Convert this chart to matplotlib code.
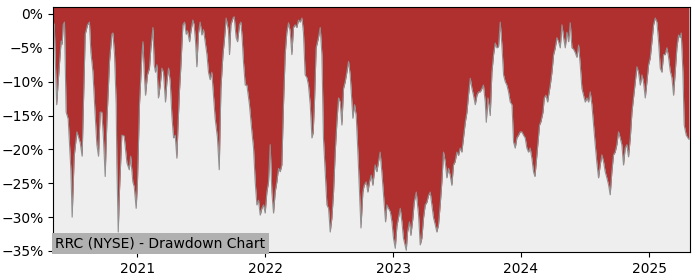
import numpy as np
import pandas as pd
import matplotlib
matplotlib.use("Agg")
import matplotlib.pyplot as plt
import matplotlib.dates as mdates
from matplotlib.ticker import PercentFormatter

# time as decimal years, drawdown in percent
years = [
    2020.344, 2020.352, 2020.371, 2020.383, 2020.398, 2020.406, 2020.414, 2020.422, 2020.432, 2020.445,
    2020.461, 2020.482, 2020.492, 2020.508, 2020.529, 2020.555, 2020.570, 2020.580, 2020.594, 2020.612,
    2020.627, 2020.638, 2020.654, 2020.672, 2020.685, 2020.698, 2020.711, 2020.724, 2020.737, 2020.750,
    2020.763, 2020.784, 2020.802, 2020.810, 2020.823, 2020.836, 2020.841, 2020.852, 2020.862, 2020.880,
    2020.898, 2020.920, 2020.938, 2020.949, 2020.966, 2020.977, 2020.992, 2021.002, 2021.018, 2021.037,
    2021.045, 2021.055, 2021.065, 2021.080, 2021.096, 2021.107, 2021.123, 2021.133, 2021.143, 2021.154,
    2021.166, 2021.180, 2021.193, 2021.205, 2021.221, 2021.232, 2021.245, 2021.258, 2021.271, 2021.284,
    2021.297, 2021.310, 2021.318, 2021.330, 2021.341, 2021.357, 2021.370, 2021.383, 2021.393, 2021.409,
    2021.420, 2021.435, 2021.445, 2021.456, 2021.466, 2021.479, 2021.492, 2021.505, 2021.518, 2021.531,
    2021.545, 2021.557, 2021.570, 2021.583, 2021.596, 2021.609, 2021.627, 2021.641, 2021.654, 2021.670,
    2021.680, 2021.695, 2021.713, 2021.721, 2021.732, 2021.748, 2021.758, 2021.773, 2021.784, 2021.799,
    2021.810, 2021.820, 2021.830, 2021.844, 2021.857, 2021.877, 2021.896, 2021.909, 2021.922, 2021.935,
    2021.948, 2021.961, 2021.974, 2021.987, 2022.000, 2022.013, 2022.026, 2022.039, 2022.052, 2022.065,
    2022.078, 2022.091, 2022.104, 2022.117, 2022.130, 2022.143, 2022.156, 2022.169, 2022.182, 2022.195,
    2022.208, 2022.221, 2022.234, 2022.247, 2022.260, 2022.273, 2022.287, 2022.299, 2022.312, 2022.326,
    2022.338, 2022.352, 2022.365, 2022.375, 2022.385, 2022.398, 2022.416, 2022.430, 2022.443, 2022.455,
    2022.469, 2022.482, 2022.495, 2022.508, 2022.521, 2022.534, 2022.547, 2022.560, 2022.573, 2022.586,
    2022.599, 2022.612, 2022.625, 2022.638, 2022.651, 2022.664, 2022.677, 2022.685, 2022.698, 2022.711,
    2022.724, 2022.737, 2022.748, 2022.763, 2022.773, 2022.789, 2022.802, 2022.815, 2022.828, 2022.841,
    2022.859, 2022.872, 2022.885, 2022.898, 2022.911, 2022.930, 2022.940, 2022.951, 2022.963, 2022.977,
    2022.990, 2023.002, 2023.016, 2023.029, 2023.041, 2023.055, 2023.068, 2023.080, 2023.102, 2023.112,
    2023.127, 2023.138, 2023.154, 2023.164, 2023.180, 2023.198, 2023.211, 2023.224, 2023.237, 2023.250,
    2023.263, 2023.276, 2023.289, 2023.302, 2023.315, 2023.328, 2023.341, 2023.354, 2023.367, 2023.380,
    2023.393, 2023.406, 2023.419, 2023.432, 2023.445, 2023.458, 2023.471, 2023.484, 2023.497, 2023.510,
    2023.523, 2023.536, 2023.549, 2023.563, 2023.576, 2023.588, 2023.602, 2023.615, 2023.627, 2023.641,
    2023.654, 2023.666, 2023.680, 2023.693, 2023.705, 2023.719, 2023.727, 2023.732, 2023.740, 2023.758,
    2023.771, 2023.784, 2023.797, 2023.810, 2023.823, 2023.836, 2023.849, 2023.862, 2023.875, 2023.888,
    2023.901, 2023.914, 2023.928, 2023.940, 2023.953, 2023.966, 2023.979, 2023.992, 2024.005, 2024.018,
    2024.031, 2024.044, 2024.057, 2024.070, 2024.083, 2024.096, 2024.107, 2024.117, 2024.127, 2024.143,
    2024.154, 2024.170, 2024.180, 2024.193, 2024.206, 2024.214, 2024.227, 2024.240, 2024.253, 2024.266,
    2024.279, 2024.292, 2024.305, 2024.318, 2024.331, 2024.344, 2024.357, 2024.370, 2024.383, 2024.396,
    2024.409, 2024.422, 2024.435, 2024.448, 2024.461, 2024.474, 2024.487, 2024.500, 2024.513, 2024.526,
    2024.539, 2024.552, 2024.565, 2024.578, 2024.591, 2024.604, 2024.617, 2024.630, 2024.643, 2024.656,
    2024.669, 2024.682, 2024.695, 2024.708, 2024.721, 2024.734, 2024.747, 2024.760, 2024.773, 2024.786,
    2024.799, 2024.812, 2024.825, 2024.838, 2024.852, 2024.865, 2024.877, 2024.891, 2024.904, 2024.916,
    2024.930, 2024.943, 2024.955, 2024.969, 2024.982, 2024.995, 2025.008, 2025.021, 2025.034, 2025.047,
    2025.060, 2025.073, 2025.086, 2025.099, 2025.112, 2025.125, 2025.138, 2025.151, 2025.164, 2025.177,
    2025.190, 2025.203, 2025.216, 2025.229, 2025.242, 2025.250, 2025.263, 2025.273, 2025.289, 2025.302,
    2025.310,
]
drawdown = [
    -1.3, -1.5, -13.4, -10.0, -6.0, -4.0, -4.5, -1.6, -1.2, -14.5,
    -15.5, -23.0, -30.0, -21.0, -17.4, -19.0, -21.0, -13.4, -3.0, -1.6,
    -1.2, -5.6, -8.5, -15.0, -19.3, -21.0, -14.5, -14.5, -18.5, -24.0,
    -16.0, -7.0, -3.0, -2.8, -6.0, -13.4, -22.0, -32.2, -26.0, -17.9,
    -18.0, -22.0, -23.0, -21.0, -24.8, -25.5, -28.7, -25.0, -13.4, -6.0,
    -4.1, -8.6, -12.0, -9.0, -8.0, -5.0, -2.0, -7.5, -8.6, -7.5,
    -12.4, -10.5, -8.0, -8.6, -13.0, -10.0, -8.0, -10.0, -15.0, -18.3,
    -17.9, -21.3, -17.0, -11.5, -7.8, -1.6, -1.2, -3.0, -2.5, -4.1,
    -2.5, -0.9, -1.6, -4.1, -7.8, -2.8, -1.2, -3.1, -2.3, -4.1,
    -6.0, -8.6, -9.7, -8.6, -12.0, -15.4, -18.3, -23.0, -11.0, -6.0,
    -4.1, -0.6, -2.5, -6.0, -1.6, -0.6, -0.4, -3.5, -4.1, -1.6,
    -1.2, -3.5, -7.0, -10.5, -10.5, -13.4, -17.4, -19.8, -24.8, -28.2,
    -27.5, -29.7, -28.7, -28.2, -29.4, -26.3, -24.8, -19.3, -26.3, -29.4,
    -26.3, -24.8, -22.8, -23.3, -22.3, -13.4, -6.0, -2.7, -1.3, -2.5,
    -6.0, -2.0, -1.6, -2.0, -0.9, -1.2, -0.6, -2.8, -9.0, -9.4,
    -10.5, -13.4, -18.3, -17.5, -13.0, -5.0, -3.5, -2.0, -6.0, -18.3,
    -23.3, -28.2, -28.7, -32.2, -30.1, -26.3, -20.4, -16.0, -12.4, -13.0,
    -16.4, -11.0, -10.0, -8.6, -7.0, -9.0, -13.0, -15.4, -13.4, -15.0,
    -20.4, -26.3, -31.6, -26.3, -25.3, -24.8, -26.3, -24.8, -23.8, -25.3,
    -22.3, -23.3, -21.8, -20.4, -23.3, -28.2, -30.7, -28.2, -28.7, -29.2,
    -30.7, -33.1, -34.6, -31.3, -30.1, -28.7, -30.7, -33.1, -34.9, -32.2,
    -30.7, -32.7, -30.1, -27.8, -26.3, -29.7, -34.1, -33.1, -30.1, -28.2,
    -27.8, -26.8, -26.3, -28.2, -30.1, -31.1, -32.2, -31.1, -28.2, -24.8,
    -20.4, -21.8, -24.2, -22.8, -23.8, -25.3, -22.3, -21.8, -20.4, -20.9,
    -19.8, -20.4, -18.3, -16.0, -14.5, -12.0, -9.5, -11.0, -12.0, -13.4,
    -12.0, -11.5, -11.5, -11.0, -10.5, -13.0, -16.0, -14.5, -12.4, -15.0,
    -8.6, -6.0, -4.3, -5.0, -4.8, -1.2, -4.6, -9.0, -10.0, -10.5,
    -11.5, -13.0, -13.4, -18.9, -19.8, -18.3, -17.9, -17.4, -17.4, -17.9,
    -18.3, -19.8, -20.4, -19.8, -21.3, -23.3, -24.0, -22.0, -19.8, -16.4,
    -15.9, -14.5, -12.4, -12.0, -13.0, -12.0, -10.5, -8.6, -6.0, -5.0,
    -3.5, -4.1, -5.0, -1.6, -3.5, -5.0, -2.7, -4.1, -1.3, -5.0,
    -5.2, -5.7, -6.4, -4.6, -7.5, -11.0, -12.0, -13.0, -12.4, -13.0,
    -11.5, -13.4, -16.4, -19.3, -22.0, -24.2, -22.3, -20.8, -21.8, -23.3,
    -24.2, -25.2, -26.7, -23.3, -20.8, -20.4, -19.3, -17.4, -18.3, -19.3,
    -22.3, -19.8, -19.3, -21.1, -18.3, -14.5, -12.4, -10.0, -7.8, -8.6,
    -10.5, -9.0, -10.0, -12.4, -10.0, -7.5, -6.5, -4.1, -1.6, -0.6,
    -1.2, -4.1, -8.0, -8.6, -6.0, -6.0, -5.0, -6.4, -8.4, -9.4,
    -12.0, -8.6, -5.0, -3.1, -3.5, -2.8, -8.6, -16.4, -17.9, -18.3,
    -18.5,
]
ticker = "RRC (NYSE) - Drawdown Chart"


def to_dates(vals):
    base = pd.Timestamp("2021-01-01")
    return [base + pd.to_timedelta((v - 2021) * 365.25, unit="D") for v in vals]


dates = to_dates(years)
dd = np.array(drawdown)

fig, ax = plt.subplots(figsize=(7, 2.8), dpi=100)
fig.subplots_adjust(left=0.076, right=0.986, top=0.975, bottom=0.1)

ymin, ymax = -35.15, 1.03
ax.set_facecolor("#eeeeee")
ax.fill_between(dates, dd, ymax, color="#b03030", linewidth=0)
ax.plot(dates, dd, color="#909090", linewidth=0.8)

ax.set_ylim(ymin, ymax)
ax.set_xlim(to_dates([2020.344, 2025.320]))
ax.xaxis.set_major_locator(mdates.YearLocator())
ax.xaxis.set_major_formatter(mdates.DateFormatter("%Y"))
ax.set_yticks(np.arange(0, -36, -5))
ax.yaxis.set_major_formatter(PercentFormatter(decimals=0))
ax.tick_params(labelsize=10)

ax.text(0.003, 0.005, ticker, transform=ax.transAxes, fontsize=10,
        ha="left", va="bottom",
        bbox=dict(facecolor="#b0b0b0", edgecolor="none", pad=2.5))

fig.savefig("out.png")
